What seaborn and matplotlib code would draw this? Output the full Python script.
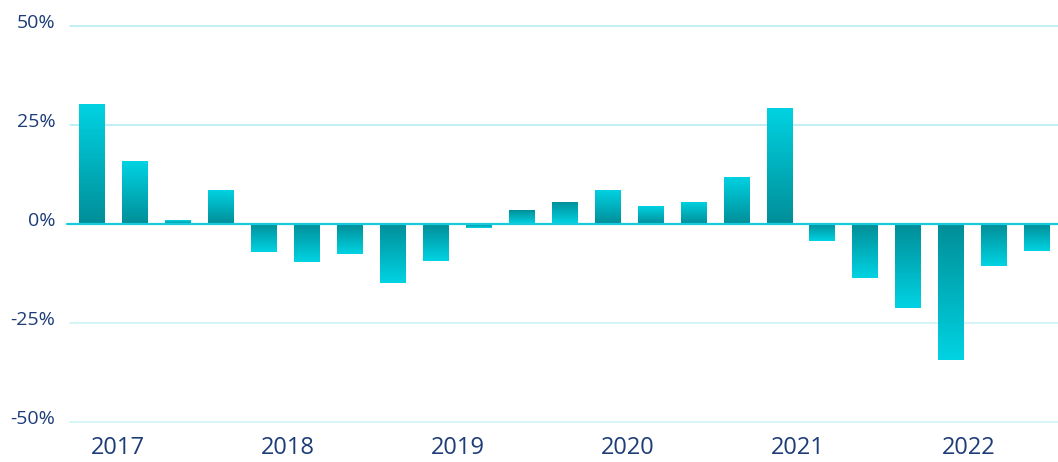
import matplotlib
matplotlib.use("Agg")
import matplotlib.pyplot as plt
from matplotlib.colors import LinearSegmentedColormap
from matplotlib.transforms import ScaledTranslation
import seaborn as sns
import numpy as np
import pandas as pd

# quarterly change, %
quarters = [f"{y} Q{q}" for y in range(2017, 2023) for q in range(1, 5)][:23]
values = [30.3, 15.9, 1.0, 8.6, -7.1, -9.6, -7.5, -14.9, -9.3, -1.0, 3.5, 5.6,
          8.6, 4.5, 5.6, 11.9, 29.3, -4.3, -13.6, -21.2, -34.3, -10.6, -6.8]
year_labels = ["2017", "2018", "2019", "2020", "2021", "2022"]
y_ticks = [50, 25, 0, -25, -50]
# bars where the gradient runs the other way in the original
flipped = [10, 11]

DARK = "#008e98"
LIGHT = "#00d3e3"
NAVY = "#1d3c78"

df = pd.DataFrame({"quarter": quarters, "value": values})

sns.set_style("white")
plt.rcParams["font.family"] = ["Open Sans", "DejaVu Sans"]

fig = plt.figure(figsize=(10.58, 4.62), dpi=100)
ax = fig.add_axes([70 / 1058, 1 - 422 / 462, 988 / 1058, 396 / 462])

sns.barplot(data=df, x="quarter", y="value", color=LIGHT, width=0.6, ax=ax,
            order=quarters)

cmap = LinearSegmentedColormap.from_list("g", [DARK, LIGHT])
grad = np.linspace(0, 1, 256).reshape(-1, 1)
for i, patch in enumerate(ax.patches):
    x0, y0 = patch.get_x(), patch.get_y()
    w, h = patch.get_width(), patch.get_height()
    top, bot = max(y0, y0 + h), min(y0, y0 + h)
    positive = values[i] >= 0
    if i in flipped:
        positive = not positive
    # origin lower: row 0 at bottom
    g = grad if positive else grad[::-1]
    im = ax.imshow(g, cmap=cmap, aspect="auto", origin="lower",
                   extent=[x0, x0 + w, bot, top], zorder=2)
    im.set_clip_path(patch)
    patch.set_facecolor("none")
    patch.set_edgecolor("none")

ax.set_xlim(-0.5, 22.48)
ax.set_ylim(-50, 50)

for t in y_ticks:
    if t == 0:
        continue
    ax.axhline(t, color="#b6eef3" if t > 0 else "#cdf3f6", lw=1.2,
               zorder=1, clip_on=False)
ax.axhline(0, xmin=-3 / 988, color="#17cbdd", lw=1.6, zorder=3, clip_on=False)

ax.set_yticks(y_ticks)
ax.set_yticklabels([f"{t}%" for t in y_ticks], color=NAVY, fontsize=14)
# year labels sit a little off the quarter grid in the original
year_step = 170.15 / 43
ax.set_xticks([0.61 + k * year_step for k in range(len(year_labels))])
ax.set_xticklabels(year_labels, color=NAVY, fontsize=17)
ax.tick_params(axis="both", length=0)
ax.tick_params(axis="y", pad=10.5)
ax.tick_params(axis="x", pad=10)
shift = ScaledTranslation(0, -2 / 100, fig.dpi_scale_trans)
for lbl in ax.get_yticklabels():
    lbl.set_verticalalignment("baseline")
    lbl.set_transform(lbl.get_transform() + shift)
ax.set_xlabel("")
ax.set_ylabel("")
sns.despine(ax=ax, left=True, bottom=True)

fig.savefig("out.png", dpi=100)
